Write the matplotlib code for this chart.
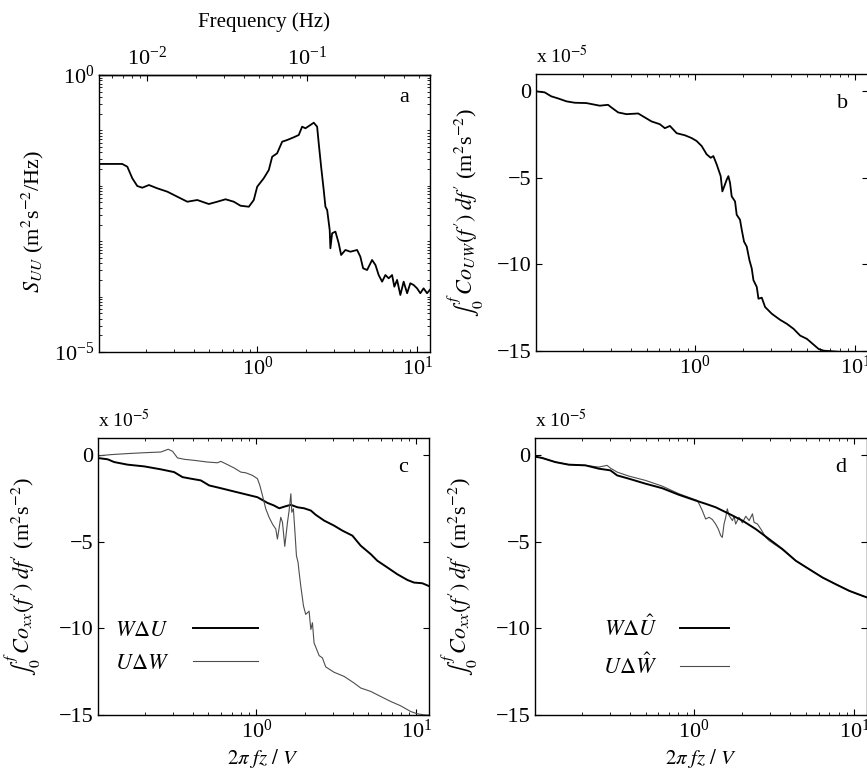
import matplotlib
matplotlib.use('Agg')
import matplotlib.pyplot as plt
from matplotlib.ticker import LogLocator, NullFormatter, FixedLocator

plt.rcParams['font.family'] = 'serif'
plt.rcParams['font.serif'] = ['Liberation Serif', 'DejaVu Serif']
plt.rcParams['mathtext.fontset'] = 'stix'
plt.rcParams['axes.linewidth'] = 1.0

# frequency conversion: 2*pi*z/V in seconds (x = f * FACTOR)
FACTOR = 20.5

# panel a: spectrum S_UU
x_a = [0.1045, 0.1426, 0.1534, 0.1648, 0.1771, 0.1903, 0.2094, 0.236, 0.273, 0.315,
       0.364, 0.420, 0.496, 0.560, 0.631, 0.711, 0.783, 0.883, 0.948, 0.996,
       1.094, 1.177, 1.236, 1.327, 1.427, 1.534, 1.687, 1.812, 1.902, 1.995,
       2.143, 2.249, 2.361, 2.416, 2.501, 2.596, 2.661, 2.728, 2.830, 2.858,
       2.930, 3.073, 3.222, 3.336, 3.548, 3.811, 4.20, 4.40, 4.58, 4.85,
       5.21, 5.47, 5.73, 6.02, 6.31, 6.62, 6.95, 7.18, 7.47, 7.83,
       8.21, 8.63, 9.04, 9.48, 9.96, 10.44, 10.94, 11.50, 12.06]
s_uu = [0.0248, 0.0248, 0.0221, 0.01365, 0.0099, 0.00924, 0.01033, 0.00901, 0.00783, 0.00636,
        0.00516, 0.00554, 0.00469, 0.00516, 0.00571, 0.00516, 0.00437, 0.00419, 0.00554, 0.00963,
        0.01365, 0.01928, 0.0335, 0.0386, 0.0625, 0.0671, 0.0751, 0.0826, 0.1167, 0.1091,
        0.1251, 0.1377, 0.1167, 0.0585, 0.0221, 0.0084, 0.00419, 0.00366, 0.00159, 0.000744,
        0.00139, 0.00149, 0.000917, 0.000564, 0.000694, 0.000646, 0.000694, 0.000525, 0.000324, 0.000302,
        0.000458, 0.000372, 0.000245, 0.000186, 0.000245, 0.000214, 0.000245, 0.000151, 0.0002, 0.000107,
        0.000186, 0.000115, 0.000174, 0.000162, 0.000141, 0.000115, 0.000141, 0.000115, 0.000135]

# panel b: cumulative co-spectrum UW (x 1e-5)
x_b = [0.1015, 0.1155, 0.127, 0.140, 0.158, 0.178, 0.2105, 0.2548, 0.287, 0.301,
       0.332, 0.374, 0.4426, 0.487, 0.536, 0.604, 0.649, 0.698, 0.769, 0.866,
       0.953, 1.024, 1.101, 1.183, 1.253, 1.302, 1.366, 1.447, 1.482, 1.525,
       1.578, 1.616, 1.655, 1.695, 1.778, 1.821, 1.910, 1.958, 2.023, 2.103,
       2.186, 2.26, 2.316, 2.429, 2.489, 2.61, 2.738, 3.015, 3.397, 3.741,
       4.12, 4.53, 4.99, 5.49, 5.90, 6.34, 8.0, 12.0]
co_uw = [0.0, -0.06, -0.29, -0.41, -0.58, -0.66, -0.68, -0.83, -0.78, -0.93,
         -1.22, -1.32, -1.28, -1.51, -1.74, -1.90, -2.13, -2.00, -2.42, -2.54,
         -2.70, -2.87, -3.16, -3.64, -3.84, -3.74, -4.22, -4.90, -5.78, -5.48,
         -5.10, -4.90, -5.29, -6.07, -6.36, -7.13, -7.42, -8.00, -8.68, -8.97,
         -9.75, -10.23, -10.91, -11.30, -11.98, -11.92, -12.46, -12.85, -13.20, -13.43,
         -13.72, -14.11, -14.30, -14.63, -14.88, -14.98, -15.05, -15.1]

# panel c: W dU (thick) and U dW (thin)
x_c1 = [0.1005, 0.1172, 0.1288, 0.1563, 0.1986, 0.2523, 0.3055, 0.3447, 0.389, 0.4487,
        0.5058, 0.5984, 0.7244, 0.879, 1.014, 1.172, 1.288, 1.387, 1.524, 1.641,
        1.803, 1.986, 2.188, 2.350, 2.649, 3.055, 3.447, 3.981, 4.487, 5.188,
        5.702, 6.592, 7.603, 8.79, 9.66, 10.9, 11.9]
w_du = [-0.15, -0.23, -0.39, -0.54, -0.64, -0.81, -0.97, -1.26, -1.35, -1.45,
        -1.74, -1.90, -2.09, -2.28, -2.42, -2.75, -2.90, -3.06, -2.94, -2.86,
        -3.00, -3.06, -3.19, -3.44, -3.77, -4.06, -4.35, -4.64, -5.22, -5.71,
        -6.09, -6.48, -6.87, -7.20, -7.35, -7.39, -7.54]
x_c2 = [0.1005, 0.1230, 0.1563, 0.1986, 0.2523, 0.2805, 0.2985, 0.3206, 0.3532, 0.4074,
        0.4943, 0.5702, 0.5984, 0.6592, 0.7244, 0.798, 0.857, 0.944, 1.014, 1.050,
        1.090, 1.143, 1.199, 1.259, 1.321, 1.352, 1.419, 1.454, 1.503, 1.563,
        1.600, 1.641, 1.663, 1.702, 1.746, 1.778, 1.820, 1.849, 1.892, 1.968,
        2.032, 2.133, 2.188, 2.239, 2.291, 2.382, 2.466, 2.585, 2.710, 3.055,
        3.532, 4.074, 4.487, 5.188, 5.984, 6.918, 7.980, 9.226, 10.14, 11.17, 11.89]
u_dw = [-0.04, 0.04, 0.10, 0.15, 0.19, 0.35, 0.23, -0.15, -0.23, -0.29,
        -0.39, -0.43, -0.35, -0.54, -0.73, -0.97, -1.01, -1.16, -1.35, -1.74,
        -2.32, -3.09, -3.58, -3.97, -4.26, -4.84, -3.58, -3.87, -5.26, -3.87,
        -3.19, -2.22, -3.29, -3.09, -4.64, -5.80, -6.19, -6.77, -7.54, -8.70,
        -9.19, -9.00, -10.06, -9.67, -10.83, -11.22, -11.57, -11.70, -12.22, -12.53,
        -12.77, -13.15, -13.44, -13.64, -13.93, -14.22, -14.47, -14.80, -14.93, -14.99, -15.01]

# panel d: W dU-hat (thick) and U dW-hat (thin)
x_d1 = [0.100, 0.1127, 0.1365, 0.1656, 0.2104, 0.2547, 0.3013, 0.3319, 0.3926, 0.4989,
        0.6339, 0.8054, 1.023, 1.183, 1.365, 1.656, 2.004, 2.427, 2.944, 3.565,
        4.315, 5.236, 6.339, 7.674, 9.311, 11.27, 12.1]
w_duh = [-0.06, -0.15, -0.39, -0.54, -0.58, -0.77, -0.87, -1.16, -1.35, -1.64,
         -1.90, -2.28, -2.61, -2.80, -3.00, -3.38, -3.77, -4.26, -4.84, -5.42,
         -6.09, -6.58, -7.06, -7.45, -7.83, -8.12, -8.22]
x_d2 = [0.100, 0.1127, 0.1365, 0.1656, 0.2104, 0.2547, 0.2871, 0.3013, 0.3319, 0.3926,
        0.4989, 0.6339, 0.8054, 1.050, 1.084, 1.127, 1.183, 1.242, 1.303, 1.365,
        1.419, 1.469, 1.503, 1.540, 1.578, 1.614, 1.656, 1.738, 1.778, 1.820,
        1.910, 2.004, 2.104, 2.208, 2.317, 2.371, 2.489, 2.612, 2.805, 2.944,
        3.565, 4.315, 5.236, 6.339, 7.674, 9.311, 11.27, 12.1]
u_dwh = [-0.06, -0.15, -0.39, -0.54, -0.58, -0.68, -0.58, -0.74, -0.97, -1.20,
         -1.45, -1.78, -2.22, -2.61, -2.86, -3.19, -3.68, -3.58, -3.71, -3.97,
         -4.26, -4.64, -4.74, -3.97, -3.58, -3.09, -3.48, -3.77, -3.52, -3.97,
         -3.58, -3.90, -3.52, -3.77, -3.38, -3.87, -3.97, -4.26, -4.74, -4.93,
         -5.45, -6.09, -6.58, -7.06, -7.45, -7.83, -8.12, -8.22]

xlim = (0.102, 12.0)
yticks_co = [-15, -10, -5, 0]
FS = 16

W, H = 867, 776
fig = plt.figure(figsize=(W / 100, H / 100), dpi=100)


def rect(l, r, t, b):
    return [l / W, 1 - b / H, (r - l) / W, (b - t) / H]


ax_a = fig.add_axes(rect(99, 430, 75, 352))
ax_b = fig.add_axes(rect(536, 868, 74, 351))
ax_c = fig.add_axes(rect(98, 429, 438, 715))
ax_d = fig.add_axes(rect(535, 867, 438, 715))


def style_x(ax, top=True):
    ax.set_xscale('log')
    ax.set_xlim(*xlim)
    ax.xaxis.set_major_locator(FixedLocator([1, 10]))
    ax.xaxis.set_minor_locator(LogLocator(base=10, subs=range(2, 10)))
    ax.xaxis.set_minor_formatter(NullFormatter())
    ax.tick_params(axis='both', which='both', direction='in', top=top, right=True,
                   labelsize=FS)
    ax.tick_params(which='major', length=4, width=0.8)
    ax.tick_params(which='minor', length=2, width=0.6)


def style_co(ax, letter, ylabel_sub, lab_x):
    style_x(ax)
    ax.set_ylim(-15, 1)
    ax.set_yticks(yticks_co)
    ax.text(0.0, 1.025, r'x 10$^{-5}$', transform=ax.transAxes, fontsize=14,
            ha='left', va='bottom')
    ax.text(0.922, 0.895, letter, transform=ax.transAxes, fontsize=16,
            ha='center', va='center')
    ax.set_ylabel(r"$\int_0^f\, Co_{%s}(f')\; df'$ (m$^2$s$^{-2}$)" % ylabel_sub,
                  fontsize=16)
    ax.yaxis.set_label_coords(lab_x, 0.5)


# panel a
ax_a.plot(x_a, s_uu, color='black', lw=1.3)
ax_a.set_yscale('log')
ax_a.set_ylim(1e-5, 1)
style_x(ax_a, top=False)
ax_a.yaxis.set_major_locator(FixedLocator([1e-5, 1]))
ax_a.yaxis.set_minor_locator(LogLocator(base=10, subs=range(1, 10), numticks=20))
ax_a.yaxis.set_minor_formatter(NullFormatter())
ax_a.set_ylabel(r'$S_{UU}$ (m$^2$s$^{-2}$/Hz)', fontsize=16)
ax_a.yaxis.set_label_coords(-0.16, 0.47)
ax_a.text(0.922, 0.92, 'a', transform=ax_a.transAxes, fontsize=16, ha='center', va='center')
sec = ax_a.secondary_xaxis('top', functions=(lambda x: x / FACTOR, lambda f: f * FACTOR))
sec.xaxis.set_major_locator(FixedLocator([0.01, 0.1]))
sec.xaxis.set_minor_locator(LogLocator(base=10, subs=range(2, 10)))
sec.xaxis.set_minor_formatter(NullFormatter())
sec.tick_params(which='both', direction='in', labelsize=FS)
sec.tick_params(which='major', length=4, width=0.8)
sec.tick_params(which='minor', length=2, width=0.6)
sec.set_xlabel('Frequency (Hz)', fontsize=15, labelpad=14)

# panel b
ax_b.plot(x_b, co_uw, color='black', lw=1.3, clip_on=True)
style_co(ax_b, 'b', 'UW', -0.15)

# panel c
l1, = ax_c.plot(x_c1, w_du, color='black', lw=1.4, label=r'$W\Delta U$')
l2, = ax_c.plot(x_c2, u_dw, color='0.3', lw=0.8, label=r'$U\Delta W$')
style_co(ax_c, 'c', 'xx', -0.165)
ax_c.legend(handles=[l1, l2], loc='center right', bbox_to_anchor=(0.483, 0.245),
            markerfirst=False, frameon=False, handlelength=2.9, handletextpad=1.1,
            labelspacing=0.55, fontsize=FS, borderpad=0, borderaxespad=0)
ax_c.set_xlabel(r'$2\pi\ fz\ /\ V$', fontsize=15, labelpad=3)

# panel d
l4, = ax_d.plot(x_d2, u_dwh, color='0.3', lw=0.8, label=r'$U\Delta\hat{W}$')
l3, = ax_d.plot(x_d1, w_duh, color='black', lw=1.4, label=r'$W\Delta\hat{U}$')
style_co(ax_d, 'd', 'xx', -0.165)
ax_d.legend(handles=[l3, l4], loc='center right', bbox_to_anchor=(0.583, 0.245),
            markerfirst=False, frameon=False, handlelength=2.2, handletextpad=1.0,
            labelspacing=0.55, fontsize=FS, borderpad=0, borderaxespad=0)
ax_d.set_xlabel(r'$2\pi\ fz\ /\ V$', fontsize=15, labelpad=3)

fig.savefig('out.png', dpi=100)
